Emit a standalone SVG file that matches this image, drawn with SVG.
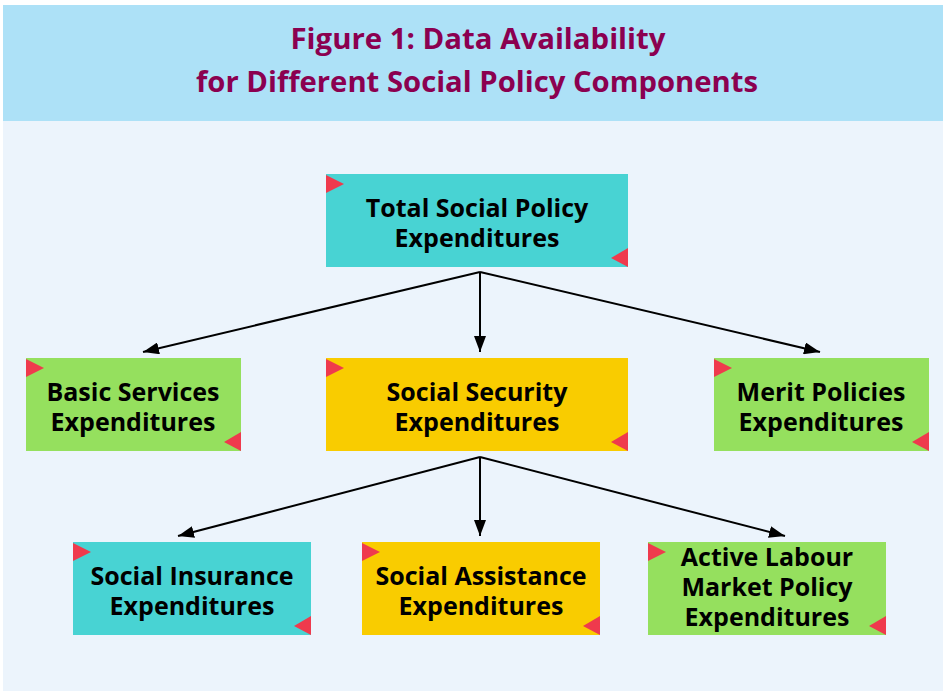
<svg xmlns="http://www.w3.org/2000/svg" width="943" height="692" viewBox="0 0 943 692">
<defs>
<style>
.title{font-family:"Open Sans","Noto Sans",sans-serif;font-weight:700;font-size:29px;fill:#8b0050;text-anchor:middle}
.lbl{font-family:"Open Sans","Noto Sans",sans-serif;font-weight:700;font-size:25px;fill:#000;text-anchor:middle}
.cyan{fill:#48d3d3}.yellow{fill:#f9cc00}.green{fill:#95e05e}
.tri{fill:#ef3a4d}
.conn{stroke:#000;stroke-width:2;fill:none}
</style>
<marker id="arr" viewBox="0 0 16 12" refX="16" refY="6" markerWidth="16" markerHeight="12" markerUnits="userSpaceOnUse" orient="auto">
<path d="M0,0 L16,6 L0,12 Z" fill="#000"/>
</marker>
</defs>
<rect x="0" y="0" width="943" height="692" fill="#fff"/>
<rect x="3" y="121" width="940" height="570" fill="#ecf4fc"/>
<rect x="3" y="5" width="940" height="116" fill="#ade1f7"/>
<text class="title" x="478" y="49" textLength="375" lengthAdjust="spacingAndGlyphs">Figure 1: Data Availability</text>
<text class="title" x="477" y="92" textLength="562" lengthAdjust="spacingAndGlyphs">for Different Social Policy Components</text>

<g id="connectors">
<path class="conn" d="M480,272 L143,352" marker-end="url(#arr)"/>
<path class="conn" d="M480,272 L480,352" marker-end="url(#arr)"/>
<path class="conn" d="M480,272 L820,352" marker-end="url(#arr)"/>
<path class="conn" d="M480,457 L178,536" marker-end="url(#arr)"/>
<path class="conn" d="M480,457 L480,536" marker-end="url(#arr)"/>
<path class="conn" d="M480,457 L785,536" marker-end="url(#arr)"/>
</g>

<g id="total">
<rect class="cyan" x="326" y="174" width="302" height="93"/>
<path class="tri" d="M326,175 L344,184 L326,193 Z"/>
<path class="tri" d="M628,248 L611,258 L628,267 Z"/>
<text class="lbl" x="477" y="217">Total Social Policy</text>
<text class="lbl" x="477" y="247">Expenditures</text>
</g>

<g id="basic">
<rect class="green" x="26" y="358" width="215" height="93"/>
<path class="tri" d="M26,359 L44,368 L26,377 Z"/>
<path class="tri" d="M241,432 L224,442 L241,451 Z"/>
<text class="lbl" x="133" y="401">Basic Services</text>
<text class="lbl" x="133" y="431">Expenditures</text>
</g>

<g id="security">
<rect class="yellow" x="326" y="358" width="302" height="93"/>
<path class="tri" d="M326,359 L344,368 L326,377 Z"/>
<path class="tri" d="M628,432 L611,442 L628,451 Z"/>
<text class="lbl" x="477" y="401">Social Security</text>
<text class="lbl" x="477" y="431">Expenditures</text>
</g>

<g id="merit">
<rect class="green" x="714" y="358" width="215" height="93"/>
<path class="tri" d="M714,359 L732,368 L714,377 Z"/>
<path class="tri" d="M929,432 L912,442 L929,451 Z"/>
<text class="lbl" x="821" y="401">Merit Policies</text>
<text class="lbl" x="821" y="431">Expenditures</text>
</g>

<g id="insurance">
<rect class="cyan" x="73" y="542" width="238" height="93"/>
<path class="tri" d="M73,543 L91,552 L73,561 Z"/>
<path class="tri" d="M311,616 L294,626 L311,635 Z"/>
<text class="lbl" x="192" y="585">Social Insurance</text>
<text class="lbl" x="192" y="615">Expenditures</text>
</g>

<g id="assistance">
<rect class="yellow" x="362" y="542" width="238" height="93"/>
<path class="tri" d="M362,543 L380,552 L362,561 Z"/>
<path class="tri" d="M600,616 L583,626 L600,635 Z"/>
<text class="lbl" x="481" y="585">Social Assistance</text>
<text class="lbl" x="481" y="615">Expenditures</text>
</g>

<g id="active">
<rect class="green" x="648" y="542" width="238" height="93"/>
<path class="tri" d="M648,543 L666,552 L648,561 Z"/>
<path class="tri" d="M886,616 L869,626 L886,635 Z"/>
<text class="lbl" x="767" y="566">Active Labour</text>
<text class="lbl" x="767" y="596">Market Policy</text>
<text class="lbl" x="767" y="626">Expenditures</text>
</g>
</svg>
